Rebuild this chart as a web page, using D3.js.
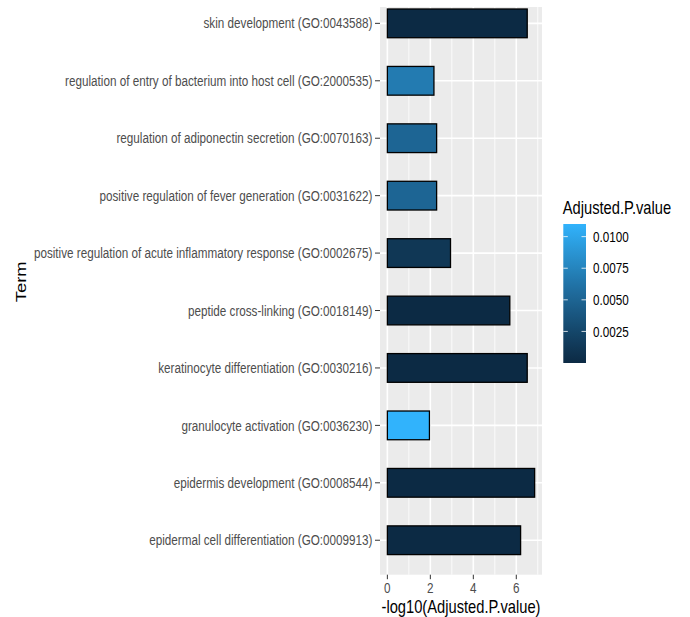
<!DOCTYPE html>
<html>
<head>
<meta charset="utf-8">
<script src="https://cdn.jsdelivr.net/npm/d3@7"></script>
<style>
  html, body { margin: 0; padding: 0; background: #fff; }
  svg { display: block; font-family: "Liberation Sans", Arial, Helvetica, sans-serif; }
</style>
</head>
<body>
<svg id="chart" width="690" height="617"></svg>
<script>
// GO terms, listed from top to bottom of the plot
const terms = [
  "skin development (GO:0043588)",
  "regulation of entry of bacterium into host cell (GO:2000535)",
  "regulation of adiponectin secretion (GO:0070163)",
  "positive regulation of fever generation (GO:0031622)",
  "positive regulation of acute inflammatory response (GO:0002675)",
  "peptide cross-linking (GO:0018149)",
  "keratinocyte differentiation (GO:0030216)",
  "granulocyte activation (GO:0036230)",
  "epidermis development (GO:0008544)",
  "epidermal cell differentiation (GO:0009913)"
];
// adjusted p-values for each term (same order)
const adjustedP = [3.1e-7, 0.0068, 0.0051, 0.0051, 0.00115, 2.0e-6, 3.1e-7, 0.0110, 1.4e-7, 6.3e-7];

const xTicks = [0, 2, 4, 6];
const xMinorTicks = [1, 3, 5, 7];
const legendTicks = [0.0025, 0.0050, 0.0075, 0.0100];

const rows = terms.map((t, i) => ({ term: t, p: adjustedP[i], v: -Math.log10(adjustedP[i]) }));

const svg = d3.select("#chart");
const TS = 1.25;               // vertical stretch applied to text
const axisFont = 11.7, titleFont = 14.7;

// panel geometry
const panel = { left: 380, right: 542, top: 7, bottom: 574.7 };
const yRangeTop = -11.1;

const vmax = d3.max(rows, d => d.v);
const pad = vmax * 0.05;
const x = d3.scaleLinear().domain([-pad, vmax + pad]).range([panel.left, panel.right]);
const y = d3.scalePoint().domain(terms).range([yRangeTop, panel.bottom]).padding(0.6);
const barH = y.step() * 0.5;

const pExt = d3.extent(adjustedP);
const color = d3.scaleLinear().domain(pExt).range(["#0C2A44", "#31B3FC"]).interpolate(d3.interpolateLab);

// panel background
svg.append("rect")
  .attr("x", panel.left).attr("y", panel.top)
  .attr("width", panel.right - panel.left).attr("height", panel.bottom - panel.top)
  .attr("fill", "#EBEBEB");

// grid lines
const grid = svg.append("g");
grid.selectAll(".minor").data(xMinorTicks).join("line")
  .attr("x1", d => x(d)).attr("x2", d => x(d))
  .attr("y1", panel.top).attr("y2", panel.bottom)
  .attr("stroke", "#fff").attr("stroke-width", 0.8);
grid.selectAll(".majorx").data(xTicks).join("line")
  .attr("x1", d => x(d)).attr("x2", d => x(d))
  .attr("y1", panel.top).attr("y2", panel.bottom)
  .attr("stroke", "#fff").attr("stroke-width", 1.6);
grid.selectAll(".majory").data(terms).join("line")
  .attr("x1", panel.left).attr("x2", panel.right)
  .attr("y1", d => y(d)).attr("y2", d => y(d))
  .attr("stroke", "#fff").attr("stroke-width", 1.6);

// bars
svg.append("g").selectAll("rect").data(rows).join("rect")
  .attr("x", x(0))
  .attr("y", d => y(d.term) - barH / 2)
  .attr("width", d => x(d.v) - x(0))
  .attr("height", barH)
  .attr("fill", d => color(d.p))
  .attr("stroke", "#000").attr("stroke-width", 1.3);

// y axis
const yAxis = svg.append("g");
yAxis.selectAll("line").data(terms).join("line")
  .attr("x1", panel.left - 5).attr("x2", panel.left)
  .attr("y1", d => y(d)).attr("y2", d => y(d))
  .attr("stroke", "#333").attr("stroke-width", 1);
yAxis.selectAll("text").data(terms).join("text")
  .attr("transform", d => `translate(${panel.left - 7.5},${y(d)}) scale(1,${TS})`)
  .attr("text-anchor", "end").attr("dy", "0.35em")
  .attr("font-size", axisFont).attr("fill", "#4D4D4D")
  .text(d => d);

// x axis
const xAxis = svg.append("g");
xAxis.selectAll("line").data(xTicks).join("line")
  .attr("x1", d => x(d)).attr("x2", d => x(d))
  .attr("y1", panel.bottom).attr("y2", panel.bottom + 4.5)
  .attr("stroke", "#333").attr("stroke-width", 1);
xAxis.selectAll("text").data(xTicks).join("text")
  .attr("transform", d => `translate(${x(d)},${panel.bottom + 13.5}) scale(1,${TS})`)
  .attr("text-anchor", "middle").attr("dy", "0.35em")
  .attr("font-size", axisFont).attr("fill", "#4D4D4D")
  .text(d => d);

// axis titles
svg.append("text")
  .attr("transform", `translate(${(panel.left + panel.right) / 2},${613}) scale(1,${TS})`)
  .attr("text-anchor", "middle")
  .attr("font-size", titleFont).attr("fill", "#000")
  .text("-log10(Adjusted.P.value)");
svg.append("text")
  .attr("transform", `translate(25.5,${(yRangeTop + panel.bottom) / 2}) scale(1,${TS}) rotate(-90)`)
  .attr("text-anchor", "middle")
  .attr("font-size", titleFont).attr("fill", "#000")
  .text("Term");

// colour bar legend
const lg = { left: 563.3, width: 22.7, top: 224, bottom: 363 };
const ly = d3.scaleLinear().domain(pExt).range([lg.bottom, lg.top]);
const defs = svg.append("defs");
const grad = defs.append("linearGradient").attr("id", "pgrad")
  .attr("x1", 0).attr("y1", 1).attr("x2", 0).attr("y2", 0);
d3.range(0, 1.0001, 0.05).forEach(t => {
  grad.append("stop").attr("offset", t)
    .attr("stop-color", color(pExt[0] + t * (pExt[1] - pExt[0])));
});
svg.append("rect")
  .attr("x", lg.left).attr("y", lg.top)
  .attr("width", lg.width).attr("height", lg.bottom - lg.top)
  .attr("fill", "url(#pgrad)");
const lt = svg.append("g");
lt.selectAll(".tl").data(legendTicks).join("line")
  .attr("x1", lg.left).attr("x2", lg.left + 4.5)
  .attr("y1", d => ly(d)).attr("y2", d => ly(d))
  .attr("stroke", "#fff").attr("stroke-width", 1).attr("opacity", 0.8);
lt.selectAll(".tr").data(legendTicks).join("line")
  .attr("x1", lg.left + lg.width - 4.5).attr("x2", lg.left + lg.width)
  .attr("y1", d => ly(d)).attr("y2", d => ly(d))
  .attr("stroke", "#fff").attr("stroke-width", 1).attr("opacity", 0.8);
lt.selectAll("text").data(legendTicks).join("text")
  .attr("transform", d => `translate(${lg.left + lg.width + 7},${ly(d)}) scale(1,${TS})`)
  .attr("dy", "0.35em")
  .attr("font-size", axisFont).attr("fill", "#000")
  .text(d => d3.format(".4f")(d));
svg.append("text")
  .attr("transform", `translate(${lg.left - 0.5},${213.5}) scale(1,${TS})`)
  .attr("font-size", titleFont).attr("fill", "#000")
  .text("Adjusted.P.value");
</script>
</body>
</html>
